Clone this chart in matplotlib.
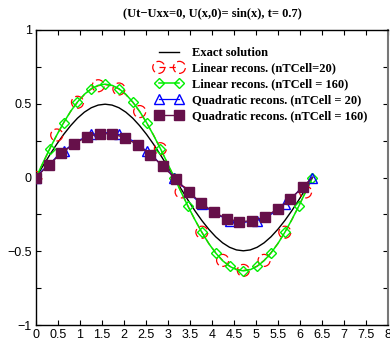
import numpy as np
import matplotlib
matplotlib.use("Agg")
import matplotlib.pyplot as plt
from matplotlib.lines import Line2D
from matplotlib.collections import PathCollection
from matplotlib.legend_handler import HandlerTuple, HandlerPathCollection, HandlerLine2D

# ---- data ----
x_fine = np.linspace(0, 2 * np.pi, 41)
exact = [0, 0.078, 0.154, 0.226, 0.292, 0.351, 0.402, 0.443, 0.473, 0.491, 0.497,
         0.491, 0.473, 0.443, 0.402, 0.351, 0.292, 0.226, 0.154, 0.078, 0,
         -0.078, -0.154, -0.226, -0.292, -0.351, -0.402, -0.443, -0.473, -0.491, -0.497,
         -0.491, -0.473, -0.443, -0.402, -0.351, -0.292, -0.226, -0.154, -0.078, 0]
lin20 = [0, 0.098, 0.195, 0.288, 0.371, 0.447, 0.510, 0.562, 0.600, 0.622, 0.630,
         0.622, 0.600, 0.562, 0.510, 0.447, 0.371, 0.288, 0.195, 0.098, 0,
         -0.098, -0.195, -0.288, -0.371, -0.447, -0.510, -0.562, -0.600, -0.622, -0.630,
         -0.622, -0.600, -0.562, -0.510, -0.447, -0.371, -0.288, -0.195, -0.098, 0]
lin160 = [0, 0.099, 0.196, 0.287, 0.372, 0.448, 0.512, 0.564, 0.602, 0.625, 0.633,
          0.625, 0.602, 0.564, 0.512, 0.448, 0.372, 0.287, 0.196, 0.099, 0,
          -0.099, -0.196, -0.287, -0.372, -0.448, -0.512, -0.564, -0.602, -0.625, -0.633,
          -0.625, -0.602, -0.564, -0.512, -0.448, -0.372, -0.287, -0.196, -0.099, 0]
quad20 = [0, 0.052, 0.090, 0.142, 0.180, 0.215, 0.250, 0.268, 0.292, 0.298, 0.305,
          0.298, 0.292, 0.268, 0.250, 0.215, 0.180, 0.142, 0.090, 0.052, 0,
          -0.052, -0.090, -0.142, -0.180, -0.215, -0.250, -0.268, -0.292, -0.298, -0.305,
          -0.298, -0.292, -0.268, -0.250, -0.215, -0.180, -0.142, -0.090, -0.052, 0]
x_q160 = [0, 0.289, 0.578, 0.867, 1.156, 1.445, 1.734, 2.023, 2.312, 2.601, 2.890,
          3.179, 3.468, 3.757, 4.046, 4.335, 4.624, 4.913, 5.202, 5.491, 5.780, 6.069, 6.283]
quad160 = [0, 0.086, 0.164, 0.229, 0.275, 0.298, 0.296, 0.270, 0.221, 0.155, 0.075,
           -0.011, -0.096, -0.174, -0.236, -0.279, -0.299, -0.294, -0.266, -0.214, -0.145, -0.064, 0]

labels = ["Exact solution", "Linear recons. (nTCell=20)", "Linear recons. (nTCell = 160)",
          "Quadratic recons. (nTCell = 20)", "Quadratic recons. (nTCell = 160)"]
title = "(Ut\u2212Uxx=0, U(x,0)= sin(x), t= 0.7)"

RED, GREEN, BLUE, PURPLE = "#ff0000", "#00ee00", "#0000ff", "#66104a"

fig = plt.figure(figsize=(3.9, 3.43), dpi=100)
ax = fig.add_axes([36 / 390, 1 - 325 / 343, (388 - 36) / 390, (325 - 30) / 343])

ax.plot(x_fine, exact, color="black", lw=1.0, zorder=2)
red_line, = ax.plot(x_fine, lin20, color=RED, lw=0.9, ls=(0, (5, 3)), zorder=2)
red_idx = list(range(0, 41, 3))
red_pts = ax.scatter(x_fine[red_idx], [lin20[i] for i in red_idx], s=75, facecolors="none",
                     edgecolors=RED, linewidths=0.9, linestyles=(0, (7, 3)), zorder=3)
ax.plot(x_fine, lin160, color=GREEN, lw=1.1, marker="D", markevery=2, ms=5.5,
        mfc="none", mec=GREEN, mew=1.0, zorder=4)
ax.plot(x_fine, quad20, color=BLUE, lw=0.9, marker="^", markevery=4, ms=7.5,
        mfc="none", mec=BLUE, mew=1.0, zorder=5)
ax.plot(x_q160, quad160, color=PURPLE, lw=1.0, marker="s", markevery=list(range(22)), ms=6.5,
        mfc=PURPLE, mec=PURPLE, zorder=6)

ax.set_xlim(0, 8)
ax.set_ylim(-1, 1)
ax.set_xticks(np.arange(0, 8.01, 0.5))
ax.set_xticklabels(["0", "0.5", "1", "1.5", "2", "2.5", "3", "3.5", "4", "4.5", "5",
                    "5.5", "6", "6.5", "7", "7.5", "8"])
ax.set_yticks([-1, -0.5, 0, 0.5, 1])
ax.set_yticklabels(["\u22121", "\u22120.5", "0", "0.5", "1"])
ax.set_yticks([-0.75, -0.25, 0.25, 0.75], minor=True)
ax.tick_params(which="both", direction="in", top=True, right=True, length=3.5, width=0.8,
               labelsize=9, pad=3)
for lab in ax.get_xticklabels() + ax.get_yticklabels():
    lab.set_family("Liberation Sans")
for s in ax.spines.values():
    s.set_linewidth(1.0)
ax.spines["right"].set_color("#777777")
ax.spines["right"].set_linewidth(1.5)

ax.set_title(title, fontsize=9, fontweight="bold", family="Liberation Serif", pad=10)

h_exact = Line2D([], [], color="black", lw=1.0)
h_lin160 = Line2D([], [], color=GREEN, lw=1.1, marker="D", ms=5.5, mfc="none", mec=GREEN)
h_q20 = Line2D([], [], color=BLUE, lw=0.9, marker="^", ms=7.5, mfc="none", mec=BLUE)
h_q160 = Line2D([], [], color=PURPLE, lw=1.0, marker="s", ms=6.5, mfc=PURPLE, mec=PURPLE)
leg = ax.legend([h_exact, (red_line, red_pts), h_lin160, h_q20, h_q160], labels,
                handler_map={tuple: HandlerTuple(ndivide=1, pad=0),
                             PathCollection: HandlerPathCollection(marker_pad=0.3, yoffsets=[0.5, 0.5]),
                             Line2D: HandlerLine2D(marker_pad=0.3)},
                loc="upper left", bbox_to_anchor=(155 / 390, 1 - 47 / 343),
                bbox_transform=fig.transFigure, frameon=False, numpoints=2, scatterpoints=2,
                prop={"family": "Liberation Serif", "weight": "bold", "size": 9},
                handlelength=2.25, handletextpad=0.7, labelspacing=0.3, borderpad=0,
                borderaxespad=0)

fig.savefig("out.png", dpi=100)
